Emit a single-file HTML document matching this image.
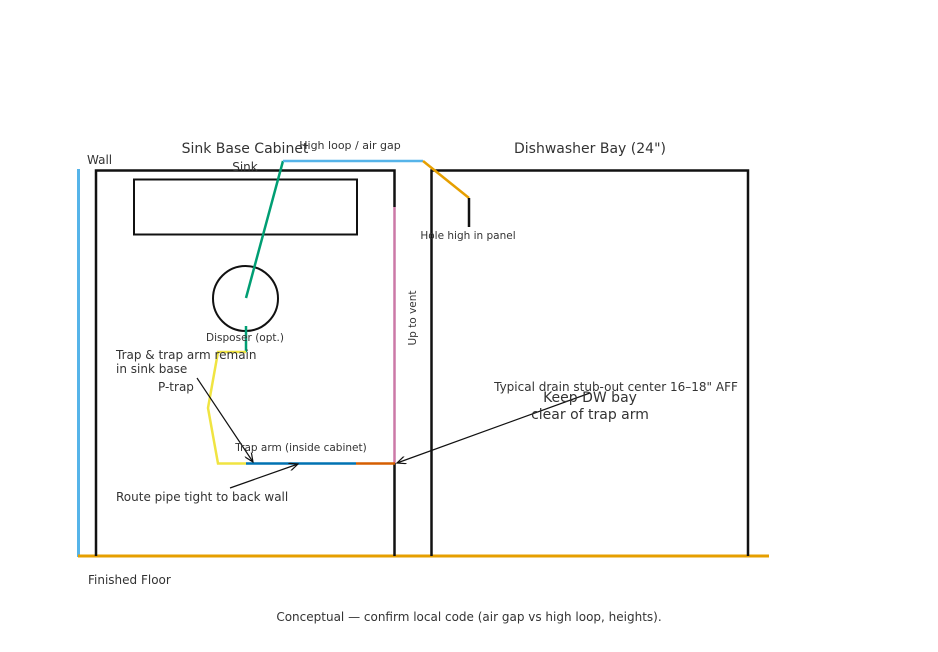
<!DOCTYPE html>
<html><head><meta charset="utf-8"><style>
html,body{margin:0;padding:0;background:#fff;}
svg{display:block;}
text{font-family:"DejaVu Sans","Liberation Sans",sans-serif;fill:#333;}
</style></head><body>
<svg width="938" height="652" viewBox="0 0 938 652" xmlns="http://www.w3.org/2000/svg">
<defs><marker id="a" markerWidth="10" markerHeight="8" refX="9" refY="4" orient="auto" markerUnits="userSpaceOnUse"><path d="M0,0 L9,4 L0,8" fill="none" stroke="#111" stroke-width="1.2"/></marker></defs>
<rect width="938" height="652" fill="#fff"/>
<!-- wall & floor -->
<line x1="78.5" y1="169" x2="78.5" y2="557" stroke="#56b4e9" stroke-width="3"/>
<line x1="78" y1="556" x2="769" y2="556" stroke="#e69f00" stroke-width="3"/>
<!-- sink cabinet -->
<path d="M96,556 V170.5 H394.5 V207" fill="none" stroke="#111" stroke-width="2.5"/>
<line x1="394.5" y1="207" x2="394.5" y2="463" stroke="#cc79a7" stroke-width="2.5"/>
<line x1="394.5" y1="463" x2="394.5" y2="556" stroke="#111" stroke-width="2.5"/>
<!-- DW bay -->
<path d="M431.5,556 V170.5 H748 V556" fill="none" stroke="#111" stroke-width="2.5"/>
<!-- sink -->
<rect x="134" y="179.5" width="223" height="55" fill="none" stroke="#111" stroke-width="2"/>
<circle cx="245.5" cy="298.5" r="32.5" fill="none" stroke="#111" stroke-width="2"/>
<!-- pipes -->
<line x1="283" y1="161" x2="246" y2="298" stroke="#009e73" stroke-width="2.5"/>
<line x1="246" y1="326" x2="246" y2="352" stroke="#009e73" stroke-width="2.5"/>
<line x1="283" y1="161" x2="423" y2="161" stroke="#56b4e9" stroke-width="2.5"/>
<line x1="423" y1="161" x2="469" y2="198" stroke="#e69f00" stroke-width="2.5"/>
<line x1="469" y1="198" x2="469" y2="227" stroke="#111" stroke-width="2.5"/>
<polyline points="246,352 218,352 208,408 218,463.5 246,463.5" fill="none" stroke="#f0e442" stroke-width="2.5"/>
<line x1="246" y1="463.5" x2="356" y2="463.5" stroke="#0072b2" stroke-width="2.5"/>
<line x1="356" y1="463.5" x2="395" y2="463.5" stroke="#d55e00" stroke-width="2.5"/>
<!-- arrows -->
<line x1="197" y1="378" x2="253" y2="462" stroke="#111" stroke-width="1.2" marker-end="url(#a)"/>
<line x1="230" y1="488" x2="298" y2="464" stroke="#111" stroke-width="1.2" marker-end="url(#a)"/>
<line x1="590" y1="393" x2="397" y2="463" stroke="#111" stroke-width="1.2" marker-end="url(#a)"/>
<!-- labels -->
<text x="87" y="164" font-size="12">Wall</text>
<text x="245" y="153" font-size="14" text-anchor="middle">Sink Base Cabinet</text>
<text x="350" y="149" font-size="11" text-anchor="middle">High loop / air gap</text>
<text x="590" y="153" font-size="14" text-anchor="middle">Dishwasher Bay (24")</text>
<text x="245" y="171" font-size="12" text-anchor="middle">Sink</text>
<text x="468" y="239" font-size="10.5" text-anchor="middle">Hole high in panel</text>
<text x="245" y="341" font-size="10.5" text-anchor="middle">Disposer (opt.)</text>
<text transform="translate(416,318) rotate(-90)" font-size="10.5" text-anchor="middle">Up to vent</text>
<text x="116" y="359" font-size="12">Trap &amp; trap arm remain</text>
<text x="116" y="373" font-size="12">in sink base</text>
<text x="158" y="391" font-size="12">P-trap</text>
<text x="616" y="391" font-size="12" text-anchor="middle">Typical drain stub-out center 16–18" AFF</text>
<text x="590" y="402" font-size="14" text-anchor="middle">Keep DW bay</text>
<text x="590" y="419" font-size="14" text-anchor="middle">clear of trap arm</text>
<text x="301" y="451" font-size="10.5" text-anchor="middle">Trap arm (inside cabinet)</text>
<text x="116" y="501" font-size="12">Route pipe tight to back wall</text>
<text x="88" y="584" font-size="12">Finished Floor</text>
<text x="469" y="621" font-size="12" text-anchor="middle">Conceptual — confirm local code (air gap vs high loop, heights).</text>
</svg>
</body></html>
